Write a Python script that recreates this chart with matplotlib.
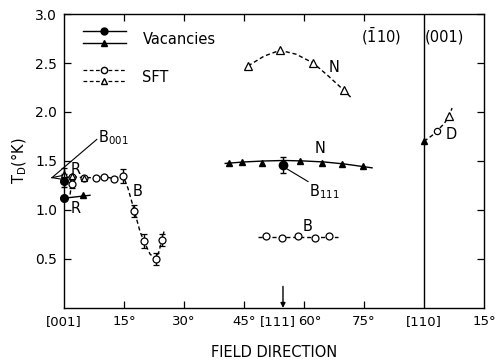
import numpy as np
import matplotlib.pyplot as plt
import matplotlib.transforms as mtransforms
from matplotlib.lines import Line2D
from matplotlib.legend_handler import HandlerBase

plt.rcParams['font.family'] = 'DejaVu Sans'
plt.rcParams['mathtext.fontset'] = 'dejavusans'

# --- данные ---
# Вакансии (заполненные символы, сплошные линии)
vac_r_x = [0.0, 6.5]
vac_r_y = [1.12, 1.15]
vac_r_pts_x = [0.0]
vac_r_pts_y = [1.12]
vac_r_tri_x = [4.7]
vac_r_tri_y = [1.15]
vac_b001_x = [0.0]
vac_b001_y = [1.30]
vac_b001_err = [0.07]

vac_n_x = [41.3, 44.4, 49.4, 59.0, 64.4, 69.4, 74.7]
vac_n_y = [1.48, 1.49, 1.48, 1.50, 1.48, 1.47, 1.45]
vac_n_curve_x = [40.3, 45, 50, 55, 60, 65, 70, 77]
vac_n_curve_y = [1.475, 1.49, 1.50, 1.505, 1.50, 1.49, 1.47, 1.43]
vac_b111_x = [54.7]
vac_b111_y = [1.46]
vac_b111_err = [0.08]

vac_d_x = [90.0]
vac_d_y = [1.70]

# SFT (открытые символы, пунктир)
sft_b_x = [2.0, 5.0, 8.0, 10.0, 12.5, 14.8, 17.6, 20.0, 22.9, 24.4]
sft_b_y = [1.34, 1.33, 1.33, 1.34, 1.32, 1.35, 0.99, 0.68, 0.50, 0.69]
sft_b_err = [0.0, 0.0, 0.0, 0.0, 0.0, 0.07, 0.06, 0.07, 0.06, 0.06]
sft_b_curve_x = [0.5, 2, 5, 8, 10, 12.5, 14.8, 16, 17.6, 19, 20, 21.5, 22.9, 23.8, 24.4, 25]
sft_b_curve_y = [1.33, 1.34, 1.33, 1.33, 1.34, 1.32, 1.35, 1.22, 0.99, 0.78, 0.68, 0.55, 0.50, 0.58, 0.69, 0.78]
sft_r_x = [1.9]
sft_r_y = [1.27]
sft_r_err = [0.05]
sft_r_curve_x = [1.9, 1.5]
sft_r_curve_y = [1.27, 1.15]
sft_tri0_x = [0.0, 2.0, 5.0]
sft_tri0_y = [1.37, 1.35, 1.33]
sft_tri0_err = [0.06, 0.0, 0.0]

sft_n_x = [46.0, 54.0, 62.3, 70.0]
sft_n_y = [2.47, 2.63, 2.50, 2.22]
sft_n_curve_x = [46, 50, 54, 58, 62.3, 66, 70, 71.7]
sft_n_curve_y = [2.47, 2.57, 2.63, 2.59, 2.50, 2.37, 2.22, 2.15]

sft_bm_x = [50.5, 54.4, 58.4, 62.75, 66.3]
sft_bm_y = [0.73, 0.71, 0.73, 0.71, 0.73]
sft_bm_curve_x = [48.6, 68.6]
sft_bm_curve_y = [0.725, 0.725]

sft_d_circ_x = [93.3]
sft_d_circ_y = [1.81]
sft_d_tri_x = [96.3]
sft_d_tri_y = [1.96]
sft_d_curve_x = [90, 92, 93.3, 95, 96.3, 97]
sft_d_curve_y = [1.70, 1.76, 1.81, 1.88, 1.96, 2.04]

x_ticks = [0, 15, 30, 45, 54.74, 60, 75, 90, 105]
x_labels = ['[001]', '15°', '30°', '45°', '[111]', '60°', '75°', '[110]', '15°']
y_ticks = [0.5, 1.0, 1.5, 2.0, 2.5, 3.0]
y_labels = ['0.5', '1.0', '1.5', '2.0', '2.5', '3.0']

DASH = (0, (3, 2))


class HandlerPair(HandlerBase):
    """Две линии с маркером, одна над другой."""
    def create_artists(self, legend, orig_handle, xdescent, ydescent,
                       width, height, fontsize, trans):
        arts = []
        for h, yy in zip(orig_handle, (height * 1.05, height * 0.05)):
            ln = Line2D([-xdescent, width / 2 - xdescent, width - xdescent], [yy, yy, yy])
            ln.update_from(h)
            ln.set_markevery([1])
            ln.set_transform(trans)
            arts.append(ln)
        return arts


fig = plt.figure(figsize=(4.98, 3.64), dpi=100)
ax = fig.add_axes([0.1285, 0.154, 0.8435, 0.8075])

k = dict(color='k', lw=1.0)
# вакансии
ax.plot(vac_r_x, vac_r_y, '-', **k)
ax.plot(vac_r_pts_x, vac_r_pts_y, 'o', color='k', ms=5.5, clip_on=False)
ax.plot(vac_r_tri_x, vac_r_tri_y, '^', color='k', ms=4.5)
ax.errorbar(vac_b001_x, vac_b001_y, yerr=vac_b001_err, fmt='o', color='k',
            ms=5.5, capsize=2, elinewidth=1, clip_on=False)
ax.plot(vac_n_curve_x, vac_n_curve_y, '-', **k)
ax.plot(vac_n_x, vac_n_y, '^', color='k', ms=5)
ax.errorbar(vac_b111_x, vac_b111_y, yerr=vac_b111_err, fmt='o', color='k',
            ms=6, capsize=2, elinewidth=1)
ax.plot(vac_d_x, vac_d_y, '^', color='k', ms=5)

# SFT
o = dict(mfc='white', mec='k', mew=0.9, color='k')
ax.plot(sft_b_curve_x, sft_b_curve_y, ls=DASH, **k)
ax.plot(sft_r_curve_x, sft_r_curve_y, ls=DASH, **k)
ax.errorbar(sft_b_x, sft_b_y, yerr=sft_b_err, fmt='o', ms=5, capsize=2,
            elinewidth=1, **o)
ax.errorbar(sft_r_x, sft_r_y, yerr=sft_r_err, fmt='o', ms=5, capsize=2,
            elinewidth=1, **o)
ax.errorbar(sft_tri0_x, sft_tri0_y, yerr=sft_tri0_err, fmt='^', ms=5, capsize=2,
            elinewidth=1, clip_on=False, **o)

ax.plot(sft_n_curve_x, sft_n_curve_y, ls=DASH, **k)
ax.plot(sft_n_x, sft_n_y, '^', ms=5.5, **o)
ax.plot(sft_bm_curve_x, sft_bm_curve_y, ls=DASH, **k)
ax.plot(sft_bm_x, sft_bm_y, 'o', ms=5, **o)
ax.plot(sft_d_curve_x, sft_d_curve_y, ls=DASH, **k)
ax.plot(sft_d_circ_x, sft_d_circ_y, 'o', ms=4.5, **o)
ax.plot(sft_d_tri_x, sft_d_tri_y, '^', ms=5.5, **o)

# вертикаль [110]
ax.axvline(90, color='k', lw=1.0)

# подписи
fs = 10.5
tfs = 9.5
ax.text(3.0, 1.41, 'R', fontsize=fs, ha='center', va='center')
ax.text(3.0, 1.01, 'R', fontsize=fs, ha='center', va='center')
ax.text(18.3, 1.19, 'B', fontsize=fs, ha='center', va='center')
ax.text(8.4, 1.74, r'B$_{\mathregular{001}}$', fontsize=fs, ha='left', va='center')
ax.plot([-3.0, 8.2], [1.33, 1.72], color='k', lw=0.8, clip_on=False)
ax.plot([-3.0, 0.6], [1.33, 1.36], color='k', lw=0.8, clip_on=False)
ax.plot([-3.0, 0.0], [1.33, 1.31], color='k', lw=0.8, clip_on=False)
ax.text(67.5, 2.45, 'N', fontsize=fs, ha='center', va='center')
ax.text(64.0, 1.63, 'N', fontsize=fs, ha='center', va='center')
ax.text(61.3, 1.19, r'B$_{\mathregular{111}}$', fontsize=fs, ha='left', va='center')
ax.plot([55.3, 61.0], [1.43, 1.29], color='k', lw=0.8)
ax.text(61.0, 0.83, 'B', fontsize=fs, ha='center', va='center')
ax.text(96.8, 1.77, 'D', fontsize=fs, ha='center', va='center')
ax.text(79.3, 2.77, r'$(\bar{1}10)$', fontsize=10.5, ha='center', va='center')
ax.text(95.2, 2.77, '(001)', fontsize=10.5, ha='center', va='center')

# стрелка [111]
ax.annotate('', xy=(54.74, 0.0), xytext=(54.74, 0.22),
            arrowprops=dict(arrowstyle='-|>', color='k', lw=1.0,
                            mutation_scale=7, shrinkA=0, shrinkB=0))

# легенда
h_vc = Line2D([], [], color='k', lw=1.0, marker='o', ms=5)
h_vt = Line2D([], [], color='k', lw=1.0, marker='^', ms=5)
h_sc = Line2D([], [], color='k', lw=0.9, ls=DASH, marker='o', ms=4.5, mfc='white', mec='k')
h_st = Line2D([], [], color='k', lw=0.9, ls=DASH, marker='^', ms=4.5, mfc='white', mec='k')
ax.legend([(h_vc, h_vt), (h_sc, h_st)], ['Vacancies', 'SFT'],
          handler_map={tuple: HandlerPair()}, loc='upper left',
          frameon=False, fontsize=fs, handlelength=3.0, handleheight=0.85,
          labelspacing=1.6, borderaxespad=0.3, handletextpad=1.1,
          bbox_to_anchor=(0.02, 0.975))

ax.set_xlim(0, 105)
ax.set_ylim(0, 3.0)
ax.set_xticks(x_ticks)
ax.set_xticklabels(x_labels, fontsize=tfs)
ax.set_yticks(y_ticks)
ax.set_yticklabels(y_labels, fontsize=tfs + 0.5)
ax.tick_params(direction='in', length=5, width=0.9, top=True, right=True, pad=5)
for t, lab in zip(ax.xaxis.get_major_ticks(), x_labels):
    if lab in ('[111]', '[110]') or t.get_loc() in (0, 105):
        t.tick1line.set_visible(False)
        t.tick2line.set_visible(False)
# чуть раздвинуть [111] и 60°
shift = {'[111]': -4, '60°': 4}
for lbl in ax.get_xticklabels():
    dx = shift.get(lbl.get_text(), 0)
    if dx:
        lbl.set_transform(lbl.get_transform() +
                          mtransforms.ScaledTranslation(dx / 72, 0, fig.dpi_scale_trans))
for sp in ax.spines.values():
    sp.set_linewidth(1.0)

ax.set_xlabel('FIELD DIRECTION', fontsize=fs, labelpad=12)
ax.set_ylabel(r'T$_{\mathregular{D}}$(°K)', fontsize=fs, labelpad=4)

fig.savefig('out.png', dpi=100)
